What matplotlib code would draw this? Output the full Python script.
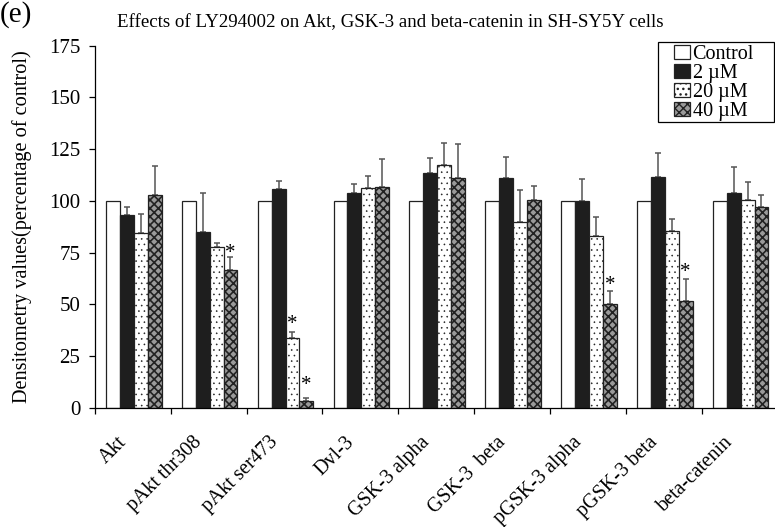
import matplotlib
matplotlib.use("Agg")
import matplotlib.pyplot as plt
import matplotlib.transforms as mtransforms
from matplotlib.patches import Rectangle
import numpy as np

plt.rcParams['font.family'] = ['Liberation Serif', 'DejaVu Serif']

categories = ['Akt', 'pAkt thr308', 'pAkt ser473', 'Dvl-3', 'GSK-3 alpha',
              'GSK-3  beta', 'pGSK-3 alpha', 'pGSK-3 beta', 'beta-catenin']
series_names = ['Control', '2 \u00b5M', '20 \u00b5M', '40 \u00b5M']

control = [100, 100, 100, 100, 100, 100, 100, 100, 100]
um2 = [93.0, 84.8, 105.5, 103.8, 113.4, 111.2, 100.0, 111.7, 103.6]
um2_err = [3.9, 18.8, 4.2, 4.2, 7.3, 9.8, 10.4, 11.3, 12.9]
um20 = [84.4, 77.8, 33.5, 106.0, 117.2, 89.8, 83.1, 85.2, 100.4]
um20_err = [9.1, 2.0, 3.2, 6.0, 10.6, 15.4, 9.1, 5.9, 8.7]
um40 = [102.6, 66.6, 3.4, 106.7, 111.2, 100.2, 50.1, 51.4, 96.9]
um40_err = [14.1, 6.2, 1.1, 13.6, 16.1, 7.1, 6.2, 10.7, 5.8]

# significance stars: (category index, series index, level of star centre)
star_cat = [1, 2, 2, 6, 7]
star_ser = [3, 2, 3, 3, 3]
star_level = [77.5, 43.2, 13.7, 61.7, 68.0]

yticks = [0, 25, 50, 75, 100, 125, 150, 175]

values = [control, um2, um20, um40]
errors = [None, um2_err, um20_err, um40_err]
faces = ['white', '#1e1e1e', 'white', '#9a9a9a']
hatches = [None, None, '...', 'xxxx']
hatch_lw = [1.0, 1.0, 0.4, 1.2]

fig = plt.figure(figsize=(7.75, 5.27), dpi=100)
ax = fig.add_axes([94.8 / 775, 119.3 / 527, 1 - 94.8 / 775, 362 / 527])

x = np.arange(len(categories))
bw = 0.183
off0 = 0.148
for j, (vals, err) in enumerate(zip(values, errors)):
    xl = x + off0 + j * bw
    with plt.rc_context({'hatch.linewidth': hatch_lw[j]}):
        ax.bar(xl, vals, width=bw, align='edge', facecolor=faces[j],
               edgecolor='#222222', linewidth=0.9, hatch=hatches[j],
               label=series_names[j], zorder=2)
    if err is not None:
        ax.errorbar(xl + bw / 2, vals, yerr=[np.zeros(len(err)), err],
                    fmt='none', ecolor='#555555', elinewidth=1.1,
                    capsize=2.5, capthick=1.1, zorder=1)

for c, s, lvl in zip(star_cat, star_ser, star_level):
    ax.annotate('*', xy=(c + off0 + (s + 0.5) * bw, lvl), xytext=(0, -7.5),
                textcoords='offset points', ha='center', va='baseline',
                fontsize=15, zorder=3)

ax.set_xlim(0, 680.2 / 75.86)
ax.set_ylim(0, 175)
ax.set_yticks(yticks)
ax.tick_params(axis='y', direction='out', length=4, width=0.9, pad=6.5,
               labelsize=15)
ax.set_xticks(np.arange(0, 9))
ax.set_xticklabels([])
ax.tick_params(axis='x', which='major', direction='out', length=4, width=0.9)
ax.set_xticks(x + 0.5, minor=True)
ax.set_xticklabels(categories, minor=True, rotation=45, ha='right',
                   rotation_mode='anchor', fontsize=14.5)
ax.tick_params(axis='x', which='minor', length=0, pad=23)
shift = mtransforms.ScaledTranslation(-9 / 100, 0, fig.dpi_scale_trans)
for lab in ax.get_xticklabels(minor=True):
    lab.set_transform(lab.get_transform() + shift)
    lab.set_va('center')

for sp in ['top', 'right']:
    ax.spines[sp].set_visible(False)
for sp in ['left', 'bottom']:
    ax.spines[sp].set_linewidth(0.9)
ax.spines['left'].set_bounds(0, 175)

leg = ax.legend(loc='upper left', bbox_to_anchor=(674 / 775, 1 - 44.5 / 527),
                bbox_transform=fig.transFigure, fontsize=14.5, frameon=False,
                handlelength=0.8, handleheight=0.7, handletextpad=0.12,
                labelspacing=0.0, borderpad=0.0, borderaxespad=0)
fig.patches.append(Rectangle((657.7 / 775, 1 - 122.3 / 527), (774 - 657.7) / 775,
                             80 / 527, transform=fig.transFigure, fill=False,
                             edgecolor='black', linewidth=0.9))

fig.text(0.503, 1 - 23 / 527, 'Effects of LY294002 on Akt, GSK-3 and beta-catenin in SH-SY5Y cells',
         ha='center', va='center', fontsize=13.6)
fig.text(22 / 775, 1 - 227 / 527, 'Densitometry values(percentage of control)',
         rotation=90, ha='center', va='center', fontsize=14.6)
fig.text(0.0, 1 - 1.5 / 527, '(e)', ha='left', va='top', fontsize=21)

fig.savefig('out.png', dpi=100)
